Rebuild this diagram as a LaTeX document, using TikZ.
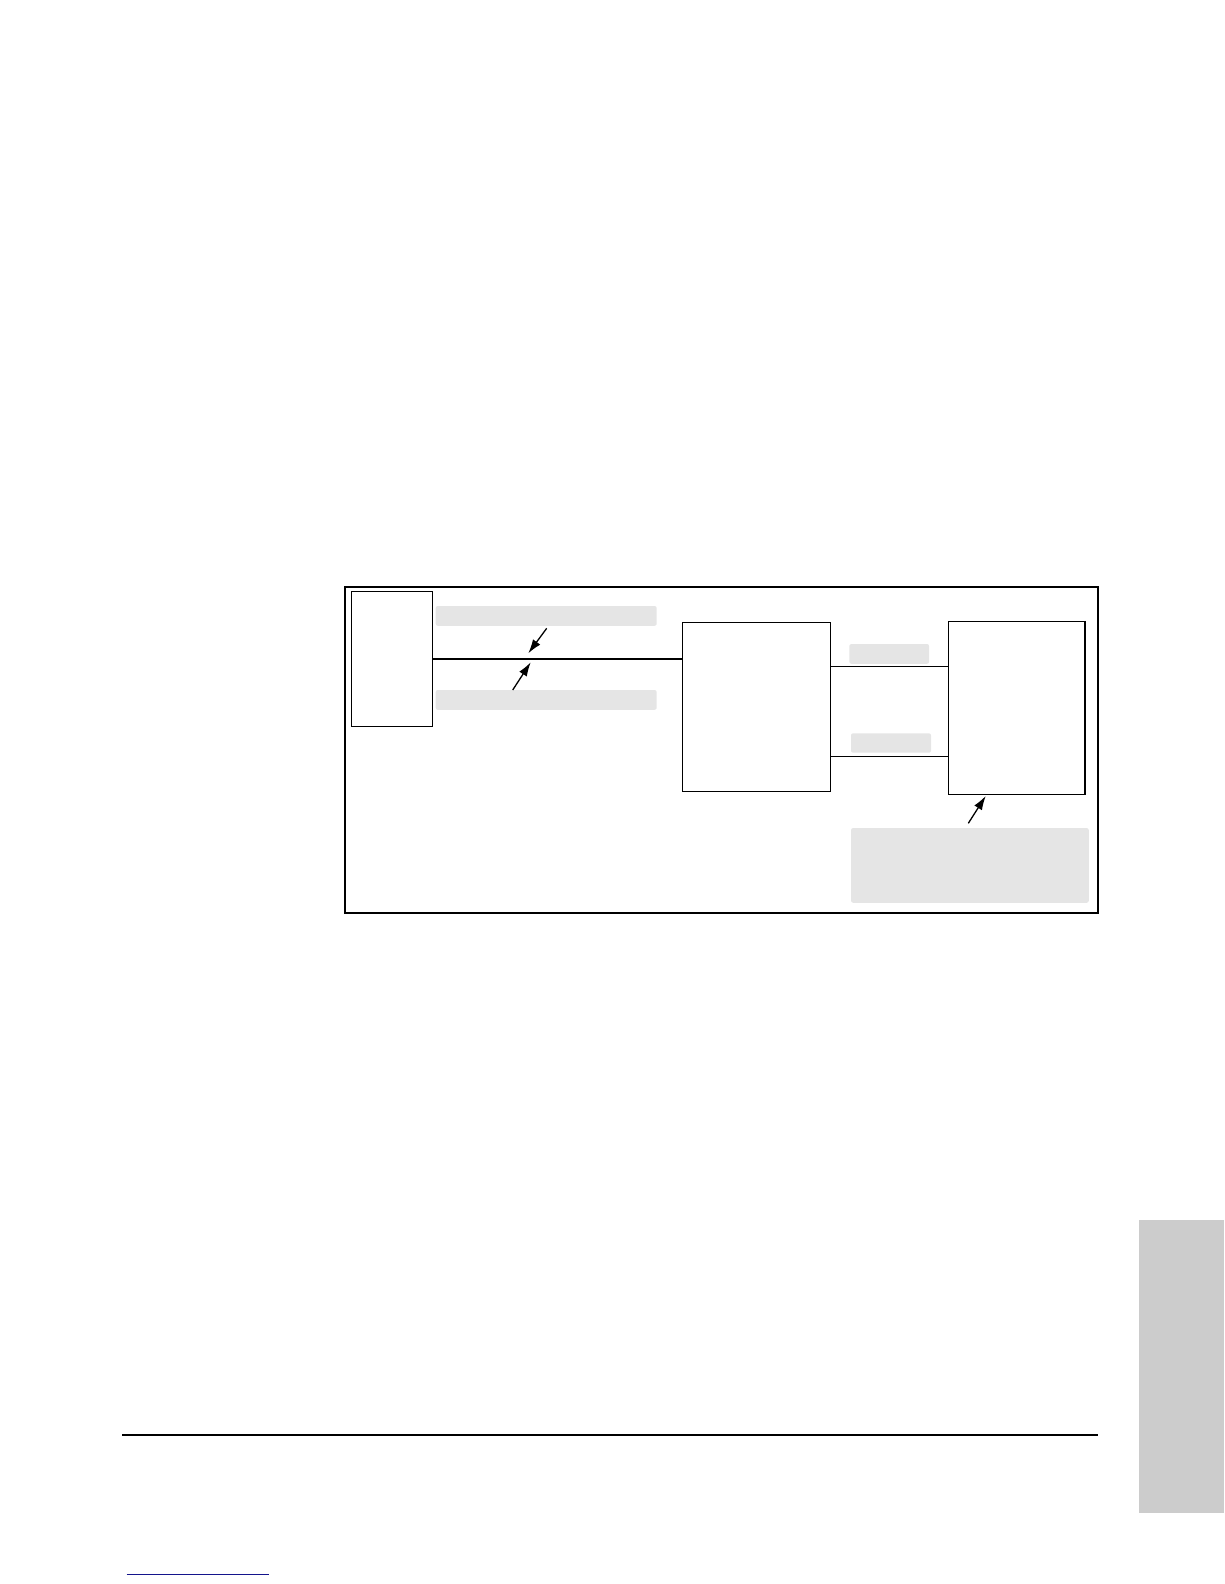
\documentclass[tikz,border=0pt]{standalone}
\usetikzlibrary{arrows.meta}
\tikzset{>={Latex[length=14pt, width=9pt]}}
\tikzset{
	unit/.style={draw, line width=1.1pt, inner sep=0pt},
	tag/.style={fill=black!10, rounded corners=2pt, inner sep=0pt},
	pointer/.style={line width=1.3pt, ->}
}
\definecolor{linkblue}{RGB}{20, 20, 140}

\begin{document}
\begin{tikzpicture}[x=1pt, y=-1pt]
    \useasboundingbox(0, 0)rectangle(1224, 1584);
    \draw[line width=1.8pt](345, 587)rectangle(1098, 913);
    % units
    \node[unit, minimum width=80.6pt, minimum height=135.4pt](host) at (392, 659){};
    \node[unit, minimum width=148.2pt, minimum height=169pt](hub) at (756.4, 706.8){};
    \node[unit, minimum width=136pt, minimum height=172.8pt](stack) at (1016.3, 707.9){};
    \draw[line width=1.8pt](stack.north east)--(stack.south east);
    % label fields
    \node[tag, minimum width=221pt, minimum height=19.7pt](upper) at (546.2, 615.9){};
    \node[tag, minimum width=221pt, minimum height=19.7pt](lower) at (546.2, 699.9){};
    \node[tag, minimum width=79.7pt, minimum height=19.7pt](portA) at (889.2, 653.9){};
    \node[tag, minimum width=80pt, minimum height=19.4pt](portB) at (891, 743){};
    \node[tag, minimum width=237.7pt, minimum height=74.7pt](note) at (969.9, 865.4){};
    % links
    \draw[line width=1.3pt](host.east)--(host.east -| hub.west);
    \coordinate(la) at (830.5, 666.3);
    \coordinate(lb) at (830.5, 756);
    \draw[line width=0.9pt](la)--(la -| stack.west);
    \draw[line width=0.9pt](lb)--(lb -| stack.west);
    % pointers
    \coordinate(t1) at (546.7, 628.3); \coordinate(h1) at (528.3, 653.3);
    \coordinate(t2) at (512.7, 690);   \coordinate(h2) at (530.7, 662.3);
    \coordinate(t3) at (968.3, 823.3); \coordinate(h3) at (985.7, 796);
    \draw[pointer](t1)--(h1);
    \draw[pointer](t2)--(h2);
    \draw[pointer](t3)--(h3);
    % page furniture
    \draw[line width=1.3pt](122, 1435)--(1098, 1435);
    \fill[black!20](1139, 1220)rectangle(1224, 1512.7);
    \draw[linkblue, line width=1pt](126.7, 1574.7)--(269, 1574.7);
\end{tikzpicture}
\end{document}
